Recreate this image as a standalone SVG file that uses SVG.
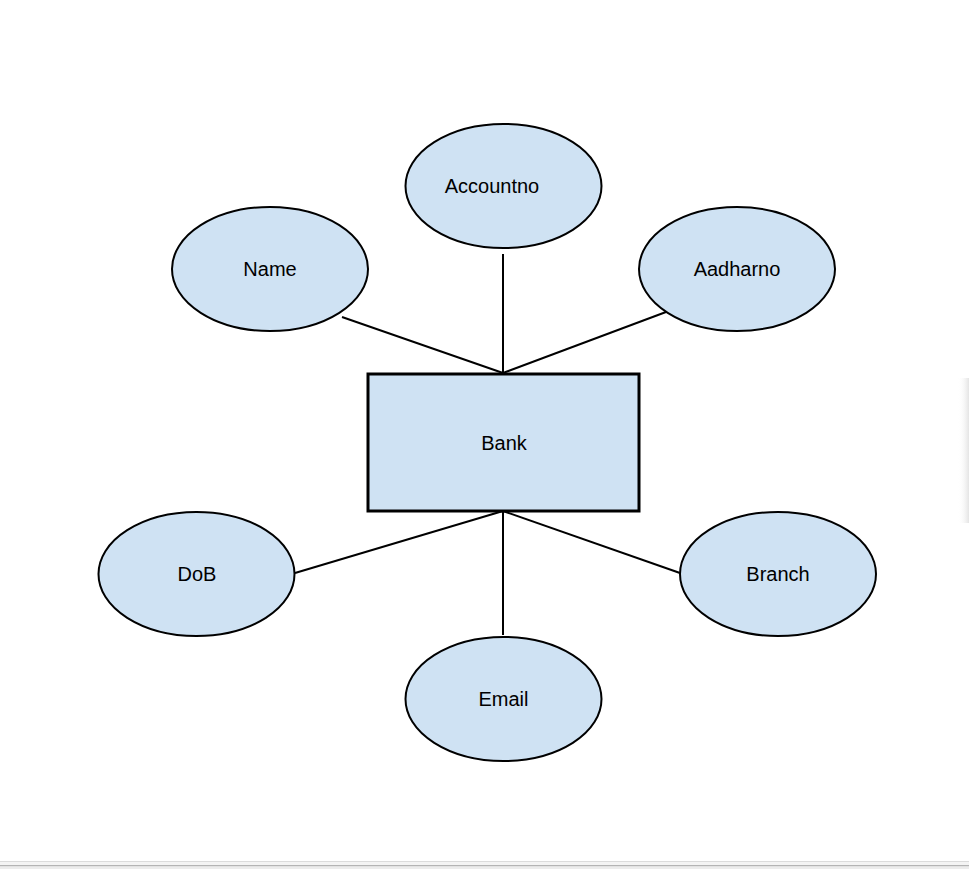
<svg xmlns="http://www.w3.org/2000/svg" width="969" height="869" viewBox="0 0 969 869">
<style>
.ent{fill:#cfe2f3;stroke:#000;stroke-width:3}
.attr{fill:#cfe2f3;stroke:#000;stroke-width:2}
.conn line{stroke:#000;stroke-width:2}
text{font-family:"Liberation Sans",Arial,sans-serif;font-size:20px;fill:#000;text-anchor:middle}
</style>
<defs>
<linearGradient id="sh" x1="0" y1="0" x2="1" y2="0">
<stop offset="0" stop-color="#fff" stop-opacity="0"/>
<stop offset="1" stop-color="#e4e4e4"/>
</linearGradient>
</defs>
<rect width="969" height="869" fill="#fff"/>
<rect x="958" y="378" width="11" height="145" fill="url(#sh)"/>
<g class="conn" id="connectors">
<line x1="342" y1="317" x2="503" y2="373"/>
<line x1="503" y1="254" x2="503" y2="373"/>
<line x1="666" y1="312" x2="503" y2="373"/>
<line x1="295" y1="573" x2="503" y2="511"/>
<line x1="503" y1="511" x2="503" y2="635"/>
<line x1="680" y1="573" x2="503" y2="511"/>
</g>
<g id="bank"><rect class="ent" x="368" y="374" width="271" height="137"/><text x="504" y="450">Bank</text></g>
<g id="name"><ellipse class="attr" cx="270" cy="269" rx="98" ry="62"/><text x="270" y="276">Name</text></g>
<g id="accountno"><ellipse class="attr" cx="503.5" cy="186" rx="98" ry="62"/><text x="492" y="193">Accountno</text></g>
<g id="aadharno"><ellipse class="attr" cx="737" cy="269" rx="98" ry="62"/><text x="737" y="276">Aadharno</text></g>
<g id="dob"><ellipse class="attr" cx="196.5" cy="574" rx="98" ry="62"/><text x="197" y="581">DoB</text></g>
<g id="branch"><ellipse class="attr" cx="778" cy="574" rx="98" ry="62"/><text x="778" y="581">Branch</text></g>
<g id="email"><ellipse class="attr" cx="503.5" cy="699" rx="98" ry="62"/><text x="503.5" y="706">Email</text></g>
<rect x="0" y="861" width="969" height="1" fill="#dcdcdc"/>
<rect x="0" y="862" width="969" height="3" fill="#f4f4f4"/>
<rect x="0" y="865" width="969" height="1.5" fill="#b4b4b4"/>
<rect x="0" y="866.5" width="969" height="2.5" fill="#ececec"/>
</svg>
